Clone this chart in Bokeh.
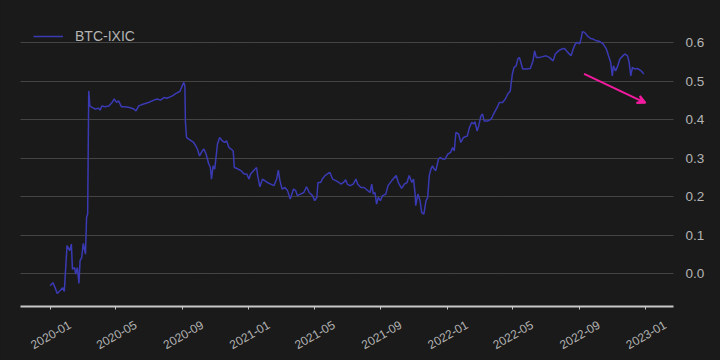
import math
import pandas as pd
from bokeh.plotting import figure
from bokeh.models import (ColumnDataSource, DatetimeTickFormatter, MonthsTicker, DatetimeAxis,
                          Legend, LegendItem, Arrow, VeeHead, Range1d, NumeralTickFormatter,
                          CustomLabelingPolicy)
from bokeh.embed import file_html
from bokeh.resources import INLINE

# ---- data (days since 2020-01-01, rolling correlation BTC vs IXIC) ----
start_date = "2020-01-01"
day_offsets = [
    0, 5, 9, 13, 18, 23, 26, 31, 36, 39, 41, 45, 47, 50, 53, 55, 58, 61, 65, 67, 69,
    71, 73, 77, 83, 89, 92, 95, 101, 108, 114, 118, 122, 126, 131, 138, 146, 154, 158,
    163, 172, 181, 191, 197, 203, 210, 215, 225, 231, 239, 243, 246, 248, 249, 251,
    255, 260, 264, 268, 271, 275, 280, 283, 287, 292, 295, 297, 300, 303, 308, 312,
    317, 321, 325, 329, 333, 337, 339, 346, 352, 357, 362, 366, 369, 374, 380, 382,
    386, 391, 395, 400, 406, 412, 417, 420, 423, 427, 432, 437, 442,
    448, 452, 455, 461, 467, 472, 477, 483, 487, 491, 493, 498, 501, 506, 512, 515,
    520, 526, 532, 535, 540, 544, 547, 552, 558, 563, 566, 572, 578, 584, 589, 592,
    595, 598, 601, 604, 608, 612, 618, 622, 629, 637, 641, 647, 652, 657, 661, 666,
    669, 672, 673, 677, 681, 684, 688, 692, 695,
    698, 701, 704, 707, 710, 715, 718, 723, 727, 732, 737, 741, 744, 747, 752, 756,
    761, 768, 772, 776, 780, 782, 786, 789, 793, 796, 799, 806, 812, 818, 823, 827,
    833, 838, 843, 847, 851, 854, 858, 861, 864,
    870, 876, 884, 889, 892, 895, 901, 907, 913, 919, 926, 930, 936, 942, 947, 953,
    959, 963, 967, 970, 975, 978, 980, 984, 989, 995, 999, 1006, 1012, 1018, 1024,
    1028, 1032, 1035, 1037, 1041, 1044, 1049, 1053, 1058, 1063, 1066, 1069, 1072,
    1076, 1082, 1088, 1093,
]
btc_ixic = [
    -0.031, -0.023, -0.036, -0.051, -0.044, -0.036, -0.046, 0.073, 0.060, 0.077, 0.012,
    0.016, -0.001, 0.016, -0.025, 0.034, 0.042, 0.079, 0.051, 0.146, 0.155,
    0.475, 0.436, 0.432, 0.428, 0.430, 0.425, 0.436, 0.434, 0.436, 0.445, 0.454, 0.445,
    0.449, 0.434, 0.434, 0.432, 0.428, 0.423, 0.436, 0.441, 0.445, 0.451, 0.454, 0.451,
    0.458, 0.456, 0.462, 0.468, 0.474, 0.488, 0.497, 0.488, 0.395, 0.354,
    0.350, 0.345, 0.341, 0.332, 0.324, 0.306, 0.319, 0.324, 0.311, 0.285, 0.276, 0.246,
    0.280, 0.272, 0.337, 0.354, 0.345, 0.341, 0.345, 0.328, 0.324, 0.319, 0.276, 0.272,
    0.267, 0.259, 0.259, 0.246, 0.259, 0.267, 0.276, 0.255, 0.226, 0.246, 0.242, 0.237,
    0.233, 0.229, 0.246, 0.269, 0.242, 0.220, 0.224, 0.216, 0.194,
    0.220, 0.216, 0.203, 0.207, 0.211, 0.226, 0.211, 0.203, 0.190, 0.198, 0.237, 0.237,
    0.246, 0.255, 0.261, 0.263, 0.246, 0.242, 0.237, 0.233, 0.237, 0.244, 0.233, 0.229,
    0.233, 0.246, 0.233, 0.224, 0.224, 0.217, 0.211, 0.233, 0.207, 0.211, 0.181, 0.198,
    0.190, 0.203, 0.207, 0.229, 0.242, 0.255, 0.237, 0.222, 0.233, 0.237, 0.255, 0.237,
    0.246, 0.207, 0.177, 0.207, 0.190, 0.159, 0.155, 0.190, 0.198,
    0.255, 0.272, 0.280, 0.272, 0.268, 0.298, 0.302, 0.298, 0.298, 0.311, 0.315, 0.328,
    0.319, 0.367, 0.363, 0.341, 0.354, 0.358, 0.380, 0.393, 0.389, 0.395, 0.371, 0.384,
    0.410, 0.415, 0.397, 0.397, 0.402, 0.419, 0.432, 0.445, 0.445, 0.454, 0.468, 0.474,
    0.519, 0.536, 0.540, 0.558, 0.562,
    0.532, 0.532, 0.533, 0.553, 0.579, 0.562, 0.562, 0.564, 0.566, 0.562, 0.553, 0.571,
    0.579, 0.584, 0.585, 0.575, 0.566, 0.584, 0.597, 0.601, 0.597, 0.614, 0.629, 0.627,
    0.618, 0.611, 0.610, 0.605, 0.603, 0.597, 0.584, 0.566, 0.549, 0.514, 0.540, 0.527,
    0.536, 0.558, 0.564, 0.571, 0.566, 0.549, 0.514, 0.536, 0.532, 0.533, 0.527, 0.519,
]
series_name = "BTC-IXIC"
tick_months = [0, 4, 8]          # Jan, May, Sep (0-based months)
arrow_start = ("2022-09-10", 0.519)
arrow_end = ("2023-01-01", 0.444)

dates = pd.Timestamp(start_date) + pd.to_timedelta(day_offsets, unit="D")
src = ColumnDataSource(dict(date=dates, corr=btc_ixic))

BG = "#1a1a1a"
TXT = "#b4b4b4"
FONT = "Liberation Sans"

# ranges with 5% margins
x0, x1 = dates.min(), dates.max()
xpad = (x1 - x0) * 0.05
y0, y1 = min(btc_ixic), max(btc_ixic)
ypad = (y1 - y0) * 0.05
# label range is shifted so that rotated labels are centred under their ticks
lab_shift = pd.Timedelta(days=36)

p = figure(width=720, height=360, x_axis_type="datetime", y_axis_location="right",
           output_backend="svg", toolbar_location=None,
           x_range=Range1d(x0 - xpad, x1 + xpad), y_range=Range1d(y0 - ypad, y1 + ypad),
           min_border_left=20, min_border_right=47, min_border_top=18, min_border_bottom=54)
p.extra_x_ranges = {"lab": Range1d(x0 - xpad - lab_shift, x1 + xpad - lab_shift)}
p.background_fill_color = BG
p.border_fill_color = BG
p.outline_line_color = None

r = p.line("date", "corr", source=src, line_color="#3a3ab4", line_width=1.5)

p.add_layout(Arrow(end=VeeHead(size=8, line_color="#f21a9e", line_width=2,
                               fill_color="#f21a9e"),
                   x_start=pd.Timestamp(arrow_start[0]), y_start=arrow_start[1],
                   x_end=pd.Timestamp(arrow_end[0]), y_end=arrow_end[1],
                   line_color="#f21a9e", line_width=2))

# grid
p.xgrid.grid_line_color = None
p.ygrid.grid_line_color = "#6e6e6e"
p.ygrid.grid_line_dash = "1 1"
p.ygrid.grid_line_width = 1

fmt = DatetimeTickFormatter(months="%Y-%m", days="%Y-%m", years="%Y-%m")

# main x axis: line + tick marks only (its labels are all filtered out)
xa = p.xaxis[0]
xa.ticker = MonthsTicker(months=tick_months)
xa.formatter = fmt
xa.major_label_policy = CustomLabelingPolicy(code="return []")
xa.major_label_text_font_size = "12px"
xa.major_label_text_color = TXT
xa.major_label_standoff = 0
xa.axis_line_color = "#c8c8c8"
xa.axis_line_width = 2
xa.major_tick_line_color = "#c8c8c8"
xa.major_tick_out = 3
xa.major_tick_in = 0
xa.minor_tick_line_color = None

# label axis
la = DatetimeAxis(x_range_name="lab", ticker=MonthsTicker(months=tick_months), formatter=fmt)
la.axis_line_color = None
la.major_tick_line_color = None
la.minor_tick_line_color = None
la.major_tick_out = 0
la.major_tick_in = 0
la.major_label_standoff = 2
la.major_label_orientation = math.radians(30)
la.major_label_text_color = TXT
la.major_label_text_font = FONT
la.major_label_text_font_size = "12px"
p.add_layout(la, "below")

# y axis (right)
ya = p.yaxis[0]
ya.formatter = NumeralTickFormatter(format="0.0")
ya.axis_line_color = None
ya.major_tick_line_color = None
ya.minor_tick_line_color = None
ya.major_tick_out = 0
ya.major_tick_in = 0
ya.major_label_standoff = 8
ya.major_label_text_color = TXT
ya.major_label_text_font = FONT
ya.major_label_text_font_size = "13.5px"

legend = Legend(items=[LegendItem(label=series_name, renderers=[r])],
                location=(13, 262), background_fill_alpha=0, border_line_color=None,
                label_text_color=TXT, label_text_font=FONT, label_text_font_size="14px",
                glyph_width=30, glyph_height=16, label_standoff=12, padding=0, margin=0)
p.add_layout(legend)

html = file_html(p, INLINE)
html = html.replace("<body>", '<body style="background:#1a1a1a">')
open("out.html", "w").write(html)
